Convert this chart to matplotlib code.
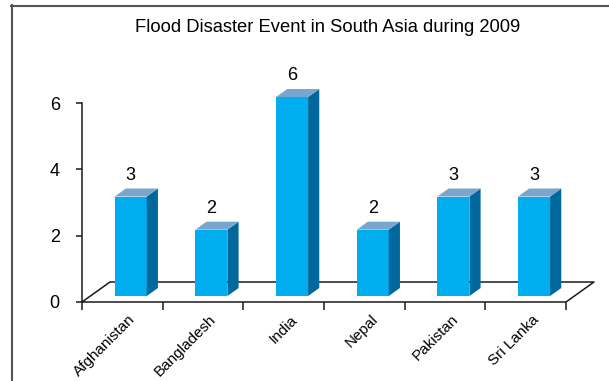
import matplotlib.pyplot as plt
from matplotlib.patches import Polygon
from matplotlib.lines import Line2D

plt.rcParams['font.family'] = ['Liberation Sans', 'DejaVu Sans']

countries = ["Afghanistan", "Bangladesh", "India", "Nepal", "Pakistan", "Sri Lanka"]
events = [3, 2, 6, 2, 3, 3]
yticks = [0, 2, 4, 6]

FRONT = "#00aeef"
SIDE = "#00689c"
TOP = "#78a6cf"
INK = "#1a1a1a"

# fake 3d: depth of the floor in data units, bar occupies depth 0.3..0.7
DX, DY = 0.347, 0.603
D0, BD = 0.3, 0.4
BW = 0.397

W, H = 609, 381
fig = plt.figure(figsize=(W / 100, H / 100), dpi=100)
ax = fig.add_axes([82 / W, (H - 302) / H, 484 / W, 199 / H])
ax.set_xlim(-0.5, len(countries) - 0.5)
ax.set_ylim(0, 6)
ax.patch.set_visible(False)
for s in ["top", "right", "bottom"]:
    ax.spines[s].set_visible(False)
ax.spines["left"].set_color(INK)
ax.spines["left"].set_linewidth(1.1)

ax.set_yticks(yticks)
ax.tick_params(axis="y", length=4.5, width=1.1, color=INK, pad=11.5, labelsize=13)
ax.set_xticks([i - 0.5 for i in range(len(countries) + 1)])
ax.set_xticklabels([])
ax.tick_params(axis="x", length=6, width=1.1, color=INK)

# floor
x0, x1 = -0.5, len(countries) - 0.5
floor = [(x0, 0), (x1, 0), (x1 + DX, DY), (x0 + DX, DY), (x0, 0)]
ax.plot([p[0] for p in floor], [p[1] for p in floor], color=INK, lw=1.1,
        clip_on=False, zorder=1)

for i, v in enumerate(events):
    xl = i + D0 * DX - BW / 2
    xr = xl + BW
    yb = D0 * DY
    yt = v + yb
    ddx, ddy = BD * DX, BD * DY
    ax.add_patch(Polygon([(xl, yb), (xr, yb), (xr, yt), (xl, yt)],
                         closed=True, fc=FRONT, ec="none", clip_on=False, zorder=3))
    ax.add_patch(Polygon([(xr, yb), (xr + ddx, yb + ddy), (xr + ddx, yt + ddy), (xr, yt)],
                         closed=True, fc=SIDE, ec="none", clip_on=False, zorder=3))
    ax.add_patch(Polygon([(xl, yt), (xr, yt), (xr + ddx, yt + ddy), (xl + ddx, yt + ddy)],
                         closed=True, fc=TOP, ec="none", clip_on=False, zorder=3))
    ax.text((xl + xr) / 2, yt + 0.5, str(v), ha="center", va="baseline",
            fontsize=13, clip_on=False)

for i, name in enumerate(countries):
    ax.annotate(name, xy=(i, 0), xytext=(8, -11), textcoords="offset points",
                ha="right", va="center", rotation=45, rotation_mode="anchor",
                fontsize=11, annotation_clip=False)

fig.text(328 / W, 1 - 27 / H, "Flood Disaster Event in South Asia during 2009",
         ha="center", va="center", fontsize=13.2)

# outer chart frame (left and top only)
fig.add_artist(Line2D([11.5 / W, 11.5 / W], [0, 1 - 5 / H], color="#555555", lw=1.5))
fig.add_artist(Line2D([11 / W, 1], [1 - 5.5 / H, 1 - 5.5 / H], color="#555555", lw=1.5))

fig.savefig("out.png", dpi=100)
